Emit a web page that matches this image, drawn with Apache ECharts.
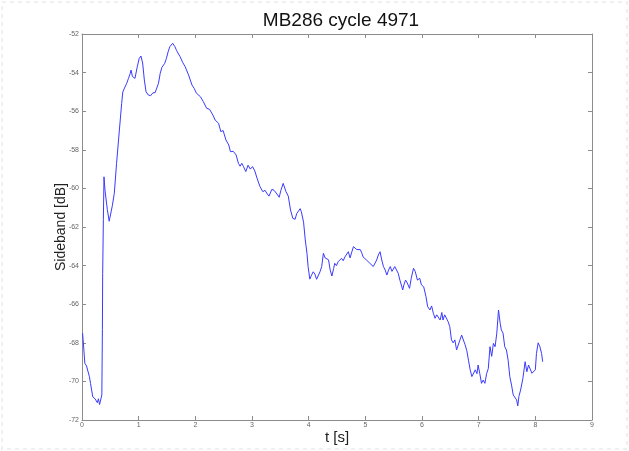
<!DOCTYPE html>
<html>
<head>
<meta charset="utf-8">
<script src="https://cdn.jsdelivr.net/npm/echarts@6/dist/echarts.min.js"></script>
<style>
  html, body { margin: 0; padding: 0; background: #fff; }
  #chart { width: 629px; height: 451px; }
</style>
</head>
<body>
<div id="chart"></div>
<script>
// values
const timeS = [
  0.01, 0.02, 0.05, 0.08, 0.13, 0.15, 0.19, 0.21, 0.23, 0.25, 0.27, 0.29, 0.31, 0.33, 0.35,
  0.36, 0.365, 0.377, 0.388, 0.406, 0.447, 0.48, 0.50, 0.535, 0.57, 0.61, 0.66, 0.70, 0.72,
  0.75, 0.79, 0.82, 0.85, 0.865, 0.89, 0.935, 0.975, 1.01, 1.04, 1.07, 1.10, 1.13, 1.17,
  1.21, 1.25, 1.29, 1.32, 1.35, 1.38, 1.41, 1.44, 1.46, 1.49, 1.52, 1.55, 1.60, 1.64, 1.67,
  1.73, 1.78, 1.82, 1.88, 1.94, 1.98, 2.02, 2.09, 2.14, 2.20, 2.25, 2.31, 2.35, 2.41, 2.45,
  2.49, 2.54, 2.59, 2.62, 2.67, 2.72, 2.76, 2.79, 2.82, 2.85, 2.89, 2.93, 2.97, 3.01, 3.05,
  3.09, 3.14, 3.19, 3.23, 3.27, 3.30, 3.35, 3.39, 3.44, 3.48, 3.51, 3.55, 3.60, 3.64, 3.68,
  3.72, 3.76, 3.79, 3.82, 3.85, 3.87, 3.91, 3.94, 3.97, 3.99, 4.02, 4.05, 4.08, 4.11, 4.14,
  4.17, 4.20, 4.23, 4.26, 4.29, 4.32, 4.35, 4.38, 4.41, 4.44, 4.46, 4.49, 4.52, 4.55, 4.58,
  4.61, 4.64, 4.67, 4.70, 4.73, 4.76, 4.79, 4.82, 4.85, 4.88, 4.91, 4.94, 4.96, 4.99, 5.02,
  5.05, 5.08, 5.11, 5.14, 5.17, 5.20, 5.23, 5.26, 5.29, 5.32, 5.35, 5.38, 5.41, 5.44, 5.47,
  5.50, 5.52, 5.55, 5.58, 5.61, 5.66, 5.68, 5.71, 5.74, 5.78, 5.81, 5.85, 5.88, 5.92, 5.96,
  5.99, 6.03, 6.07, 6.10, 6.14, 6.17, 6.20, 6.23, 6.26, 6.29, 6.32, 6.35, 6.37, 6.40, 6.43,
  6.46, 6.49, 6.52, 6.55, 6.58, 6.61, 6.64, 6.67, 6.70, 6.73, 6.76, 6.79, 6.82, 6.85, 6.88,
  6.91, 6.94, 6.97, 6.99, 7.02, 7.05, 7.08, 7.11, 7.14, 7.17, 7.20, 7.23, 7.26, 7.29, 7.32,
  7.35, 7.38, 7.40, 7.43, 7.46, 7.49, 7.52, 7.55, 7.58, 7.61, 7.64, 7.67, 7.69, 7.71, 7.74,
  7.78, 7.82, 7.85, 7.88, 7.90, 7.94, 7.97, 8.00, 8.02, 8.05, 8.08, 8.11, 8.13
];
const sidebandDb = [
  -67.5, -67.85, -69.06, -69.2, -69.75, -70.1, -70.8, -70.8, -70.9, -70.8, -71.1, -70.9, -71.2, -71.3, -70.7,
  -67.3, -64.4, -61.6, -59.4, -60.1, -61.1, -61.7, -61.8, -60.9, -60.25, -58.7, -56.97, -55.6, -55.0,
  -54.8, -54.55, -54.3, -54.05, -53.87, -54.2, -54.3, -53.7, -53.26, -53.14, -53.5, -54.38, -54.99, -55.16,
  -55.2, -55.05, -55.04, -55.05, -54.55, -54.04, -53.73, -53.78, -53.52, -53.26, -52.92, -52.66, -52.48, -52.66, -52.86,
  -53.17, -53.49, -53.69, -54.12, -54.64, -54.82, -55.07, -55.25, -55.5, -55.85, -55.9, -56.2, -56.46, -56.63, -57.06,
  -57.0, -57.49, -57.75, -58.1, -58.08, -58.27, -58.7, -58.85, -58.7, -58.87, -59.13, -58.8, -59.0, -58.87, -59.1,
  -59.48, -59.9, -60.17, -60.1, -60.29, -60.4, -60.05, -60.1, -60.29, -60.46, -60.1, -59.74, -60.17, -60.4, -61.12,
  -61.55, -61.6, -61.3, -61.35, -61.05, -61.2, -61.75, -62.67, -63.36, -64.05, -64.7, -64.5, -64.32, -64.44, -64.71,
  -64.75, -64.32, -64.05, -63.36, -63.6, -63.53, -63.7, -64.23, -64.54, -64.16, -63.88, -64.0, -63.8, -63.85, -63.62,
  -63.75, -63.55, -63.6, -63.28, -63.6, -63.7, -63.02, -62.95, -63.17, -63.19, -63.17, -63.36, -63.55, -63.45, -63.71,
  -63.62, -63.88, -63.97, -64.05, -63.97, -63.71, -63.45, -63.28, -63.71, -64.05, -64.23, -64.49, -64.23, -64.05, -64.3,
  -64.23, -64.05, -63.97, -64.4, -64.75, -65.26, -65.0, -64.75, -64.9, -65.18, -64.66, -64.14, -64.3, -64.75, -64.66,
  -65.0, -65.1, -65.6, -66.13, -66.3, -66.09, -66.47, -66.73, -66.55, -66.64, -66.82, -66.43, -66.82, -66.55, -66.64,
  -66.9, -67.16, -67.85, -68.0, -67.85, -68.37, -68.45, -67.85, -67.6, -67.7, -68.1, -68.4, -68.9, -69.4, -69.75,
  -69.85, -69.4, -69.6, -69.15, -69.6, -70.1, -69.93, -70.1, -69.6, -69.33, -68.2, -68.7, -68.03, -68.2, -67.5,
  -66.3, -66.99, -67.33, -67.5, -68.2, -68.37, -68.9, -69.76, -70.19, -70.7, -70.78, -70.96, -71.27, -70.78, -70.45,
  -69.85, -68.98, -69.5, -69.15, -69.07, -69.58, -69.67, -69.4, -68.55, -68.0, -68.2, -68.55, -68.98
];
const titleText = 'MB286 cycle 4971';
const xName = 't [s]';
const yName = 'Sideband [dB]';

const chart = echarts.init(document.getElementById('chart'), null, { renderer: 'canvas' });

const boxLine = { show: true, onZero: false, lineStyle: { color: '#8c8c8c', width: 1 } };
const innerTick = { show: true, inside: true, length: 4, lineStyle: { color: '#8c8c8c' } };
const tickLabel = { fontSize: 7, color: '#666', fontFamily: 'Liberation Sans, Arial, sans-serif' };

const xBase = { type: 'value', min: 0, max: 9, interval: 1, splitLine: { show: false }, axisLine: boxLine, axisTick: innerTick };
const yBase = { type: 'value', min: -72, max: -52, interval: 2, splitLine: { show: false }, axisLine: boxLine, axisTick: innerTick };

chart.setOption({
  animation: false,
  backgroundColor: '#fff',
  title: {
    text: titleText,
    left: 336,
    textAlign: 'center',
    top: 6,
    textStyle: { fontSize: 19, fontWeight: 'normal', color: '#111', fontFamily: 'Liberation Sans, Arial, sans-serif' }
  },
  graphic: [{
    type: 'rect',
    shape: { x: 2, y: 2, width: 625, height: 447 },
    style: { fill: null, stroke: '#f0f0f0', lineWidth: 2, lineDash: [4, 4] },
    silent: true
  }],
  grid: { left: 82, right: 37, top: 34, bottom: 31 },
  xAxis: [
    Object.assign({}, xBase, {
      position: 'bottom',
      name: xName,
      nameLocation: 'middle',
      nameGap: 10,
      nameMoveOverlap: false,
      nameTextStyle: { fontSize: 15, color: '#222', fontFamily: 'Liberation Sans, Arial, sans-serif' },
      axisLabel: Object.assign({ margin: 2 }, tickLabel)
    }),
    Object.assign({}, xBase, { position: 'top', axisLabel: { show: false } })
  ],
  yAxis: [
    Object.assign({}, yBase, {
      position: 'left',
      name: yName,
      nameLocation: 'middle',
      nameGap: 14,
      nameMoveOverlap: false,
      nameTextStyle: { fontSize: 14, color: '#222', fontFamily: 'Liberation Sans, Arial, sans-serif' },
      axisLabel: Object.assign({ margin: 3 }, tickLabel)
    }),
    Object.assign({}, yBase, { position: 'right', axisLabel: { show: false } })
  ],
  series: [{
    type: 'line',
    xAxisIndex: 0,
    yAxisIndex: 0,
    showSymbol: false,
    data: timeS.map((t, i) => [t, sidebandDb[i]]),
    lineStyle: { color: '#3a3aff', width: 1 }
  }]
});
</script>
</body>
</html>
